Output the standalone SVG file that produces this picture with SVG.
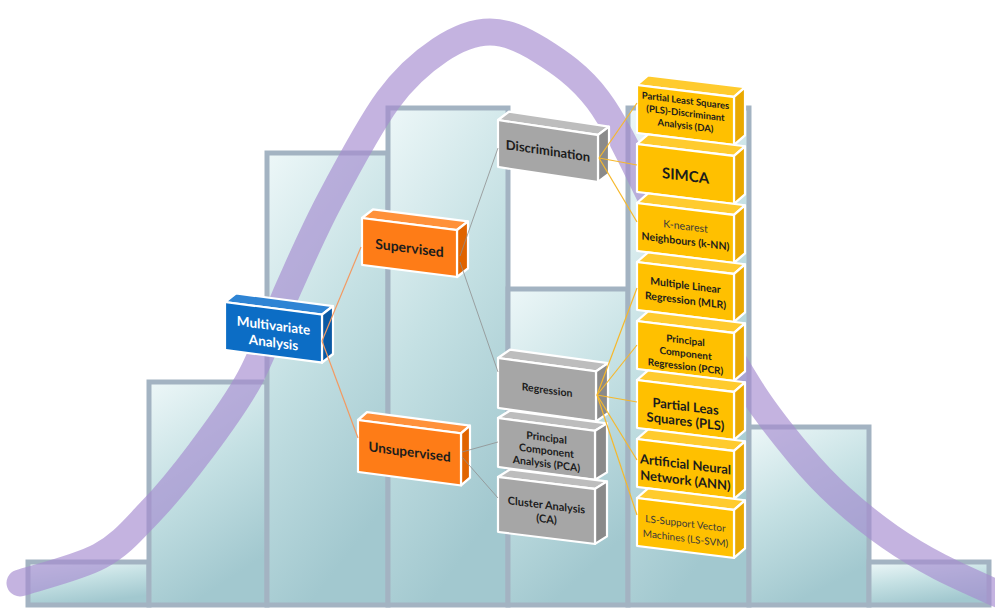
<svg xmlns="http://www.w3.org/2000/svg" width="995" height="608" viewBox="0 0 995 608">
  <defs>
    <linearGradient id="barFill" x1="0" y1="0" x2="0.35" y2="1">
      <stop offset="0" stop-color="#edf7f8"/>
      <stop offset="0.5" stop-color="#c4e0e3"/>
      <stop offset="1" stop-color="#a2c8cf"/>
    </linearGradient>
    <style>
      .bar { fill: url(#barFill); stroke: #a3b3c2; stroke-width: 5; }
      .curve { fill: none; stroke: #a58bd0; stroke-opacity: 0.66; stroke-width: 27; stroke-linecap: round; }
      .box rect, .box polygon { stroke: #ffffff; stroke-width: 2.2; stroke-linejoin: round; }
      .blue .front { fill: #0c6dc5; } .blue .top { fill: #2e84d4; } .blue .side { fill: #0a59a4; }
      .orange .front { fill: #fe7c17; } .orange .top { fill: #ff913a; } .orange .side { fill: #e06400; }
      .grey .front { fill: #a6a6a6; } .grey .top { fill: #bdbdbd; } .grey .side { fill: #8a8a8a; }
      .yellow .front { fill: #ffc000; } .yellow .top { fill: #ffcb2e; } .yellow .side { fill: #eaa900; }
      text { font-family: Lato, "Open Sans", "Liberation Sans", sans-serif; text-anchor: middle; fill: #1c1c1c; font-weight: 700; }
      .blue text { fill: #ffffff; }
      .lite { font-weight: 400; fill: #3a3a3a; }
      .link { fill: none; stroke-width: 1.2; }
      .o { stroke: #f39a62; }
      .g { stroke: #8f8f8f; stroke-width: 0.8; }
      .y { stroke: #f6b82c; }
    </style>
  </defs>

  <!-- histogram bars -->
  <g id="histogram">
    <rect class="bar" x="28" y="562" width="121" height="43"/>
    <rect class="bar" x="149" y="382" width="118" height="223"/>
    <rect class="bar" x="267" y="153" width="121" height="452"/>
    <rect class="bar" x="388" y="108" width="120" height="497"/>
    <rect class="bar" x="508" y="289" width="120" height="316"/>
    <rect class="bar" x="628" y="108" width="121" height="497"/>
    <rect class="bar" x="749" y="427" width="120" height="178"/>
    <rect class="bar" x="869" y="562" width="120" height="43"/>
  </g>

  <!-- bell curve -->
  <path id="bell-curve" class="curve" d="M20,583 C33.3,578.5 78.3,567.8 100,556 C121.7,544.2 133.3,529.3 150,512 C166.7,494.7 183.3,474.3 200,452 C216.7,429.7 235.2,405.5 250,378 C264.8,350.5 275.7,316.7 289,287 C302.3,257.3 313.5,231.2 330,200 C346.5,168.8 369.7,125 388,100 C406.3,75 423,61.3 440,50 C457,38.7 473.3,32 490,32 C506.7,32 522,38.7 540,50 C558,61.3 579.3,75 598,100 C616.7,125 635,165.8 652,200 C669,234.2 683.2,267.8 700,300 C716.8,332.2 736.3,367.2 753,393 C769.7,418.8 785.5,437.7 800,455 C814.5,472.3 825,483.3 840,497 C855,510.7 873.3,525.3 890,537 C906.7,548.7 920.8,557 940,567 C959.2,577 994.2,592 1005,597"/>

  <!-- root -->
  <g id="multivariate-analysis" class="box blue" transform="translate(225,302) skewY(7.4)">
    <polygon class="top" points="0,0 11,-10 108,-10 97,0"/>
    <polygon class="side" points="97,0 108,-10 108,38 97,48"/>
    <rect class="front" width="97" height="48"/>
    <text x="48.5" y="22" font-size="13.5">Multivariate</text>
    <text x="48.5" y="39" font-size="13.5">Analysis</text>
  </g>

  <!-- learning types -->
  <g id="supervised" class="box orange" transform="translate(362,218) skewY(7.2)">
    <polygon class="top" points="0,0 11,-10 106,-10 95,0"/>
    <polygon class="side" points="95,0 106,-10 106,37 95,47"/>
    <rect class="front" width="95" height="47"/>
    <text x="47.5" y="29" font-size="14">Supervised</text>
  </g>
  <g id="unsupervised" class="box orange" transform="translate(358,420) skewY(7.4)">
    <polygon class="top" points="0,0 9,-9 112,-9 103,0"/>
    <polygon class="side" points="103,0 112,-9 112,43 103,52"/>
    <rect class="front" width="103" height="52"/>
    <text x="51.5" y="30" font-size="13.5">Unsupervised</text>
  </g>

  <!-- method families -->
  <g id="discrimination" class="box grey" transform="translate(498,120) skewY(8.5)">
    <polygon class="top" points="0,0 11,-10 111,-10 100,0"/>
    <polygon class="side" points="100,0 111,-10 111,37 100,47"/>
    <rect class="front" width="100" height="47"/>
    <text x="50" y="28" font-size="13">Discrimination</text>
  </g>
  <g id="regression" class="box grey" transform="translate(498,358) skewY(7.8)">
    <polygon class="top" points="0,0 12,-10 110,-10 98,0"/>
    <polygon class="side" points="98,0 110,-10 110,40 98,50"/>
    <rect class="front" width="98" height="50"/>
    <text x="49" y="29" font-size="10.5">Regression</text>
  </g>
  <g id="pca" class="box grey" transform="translate(498,418) skewY(7.5)">
    <polygon class="top" points="0,0 12,-9 109,-9 97,0"/>
    <polygon class="side" points="97,0 109,-9 109,40 97,49"/>
    <rect class="front" width="97" height="49"/>
    <text x="48.5" y="17" font-size="10.5">Principal</text>
    <text x="48.5" y="30" font-size="10.5">Component</text>
    <text x="48.5" y="43" font-size="10.5">Analysis (PCA)</text>
  </g>
  <g id="cluster-analysis" class="box grey" transform="translate(498,477) skewY(7)">
    <polygon class="top" points="0,0 12,-9 109,-9 97,0"/>
    <polygon class="side" points="97,0 109,-9 109,46 97,55"/>
    <rect class="front" width="97" height="55"/>
    <text x="48.5" y="26" font-size="11">Cluster Analysis</text>
    <text x="48.5" y="40" font-size="11">(CA)</text>
  </g>

  <!-- techniques column -->
  <g id="pls-da" class="box yellow" transform="translate(637,85) skewY(7)">
    <polygon class="top" points="0,0 11,-11 108,-11 97,0"/>
    <polygon class="side" points="97,0 108,-11 108,37 97,48"/>
    <rect class="front" width="97" height="48"/>
    <text x="48.5" y="13" font-size="9.5">Partial Least Squares</text>
    <text x="48.5" y="25.5" font-size="9.5">(PLS)-Discriminant</text>
    <text x="48.5" y="38" font-size="9.5">Analysis (DA)</text>
  </g>
  <g id="simca" class="box yellow" transform="translate(637,144) skewY(7)">
    <polygon class="top" points="0,0 11,-11 108,-11 97,0"/>
    <polygon class="side" points="97,0 108,-11 108,37 97,48"/>
    <rect class="front" width="97" height="48"/>
    <text x="48.5" y="31" font-size="15">SIMCA</text>
  </g>
  <g id="knn" class="box yellow" transform="translate(637,203) skewY(7)">
    <polygon class="top" points="0,0 11,-11 108,-11 97,0"/>
    <polygon class="side" points="97,0 108,-11 108,37 97,48"/>
    <rect class="front" width="97" height="48"/>
    <text class="lite" x="48.5" y="21" font-size="10.5">K-nearest</text>
    <text x="48.5" y="36" font-size="10.5">Neighbours (k-NN)</text>
  </g>
  <g id="mlr" class="box yellow" transform="translate(637,262) skewY(7)">
    <polygon class="top" points="0,0 11,-11 108,-11 97,0"/>
    <polygon class="side" points="97,0 108,-11 108,37 97,48"/>
    <rect class="front" width="97" height="48"/>
    <text x="48.5" y="21" font-size="10.5">Multiple Linear</text>
    <text x="48.5" y="36" font-size="10.5">Regression (MLR)</text>
  </g>
  <g id="pcr" class="box yellow" transform="translate(637,321) skewY(7)">
    <polygon class="top" points="0,0 11,-11 108,-11 97,0"/>
    <polygon class="side" points="97,0 108,-11 108,37 97,48"/>
    <rect class="front" width="97" height="48"/>
    <text x="48.5" y="17" font-size="10">Principal</text>
    <text x="48.5" y="30" font-size="10">Component</text>
    <text x="48.5" y="43" font-size="10">Regression (PCR)</text>
  </g>
  <g id="pls" class="box yellow" transform="translate(637,380) skewY(7)">
    <polygon class="top" points="0,0 11,-11 108,-11 97,0"/>
    <polygon class="side" points="97,0 108,-11 108,37 97,48"/>
    <rect class="front" width="97" height="48"/>
    <text x="48.5" y="25" font-size="13">Partial Leas</text>
    <text x="48.5" y="40" font-size="13">Squares (PLS)</text>
  </g>
  <g id="ann" class="box yellow" transform="translate(637,439) skewY(7)">
    <polygon class="top" points="0,0 11,-11 108,-11 97,0"/>
    <polygon class="side" points="97,0 108,-11 108,37 97,48"/>
    <rect class="front" width="97" height="48"/>
    <text x="48.5" y="24" font-size="13">Artificial Neural</text>
    <text x="48.5" y="40" font-size="13">Network (ANN)</text>
  </g>
  <g id="ls-svm" class="box yellow" transform="translate(637,498) skewY(7)">
    <polygon class="top" points="0,0 11,-11 108,-11 97,0"/>
    <polygon class="side" points="97,0 108,-11 108,37 97,48"/>
    <rect class="front" width="97" height="48"/>
    <text class="lite" x="48.5" y="23" font-size="10">LS-Support  Vector</text>
    <text class="lite" x="48.5" y="38" font-size="10">Machines (LS-SVM)</text>
  </g>

  <!-- connectors -->
  <g id="connectors" class="link">
    <path class="o" d="M322,341 L361,247"/>
    <path class="o" d="M322,341 L358,438"/>
    <path class="g" d="M460,256 L498,148"/>
    <path class="g" d="M460,262 L498,372"/>
    <path class="g" d="M462,452 L498,442"/>
    <path class="g" d="M462,457 L498,498"/>
    <path class="y" d="M599,158 L637,103"/>
    <path class="y" d="M599,158 L637,165"/>
    <path class="y" d="M599,158 L637,222"/>
    <path class="y" d="M597,395 L637,288"/>
    <path class="y" d="M597,395 L637,345"/>
    <path class="y" d="M597,395 L637,402"/>
    <path class="y" d="M597,395 L637,460"/>
    <path class="y" d="M597,395 L637,515"/>
  </g>
</svg>
